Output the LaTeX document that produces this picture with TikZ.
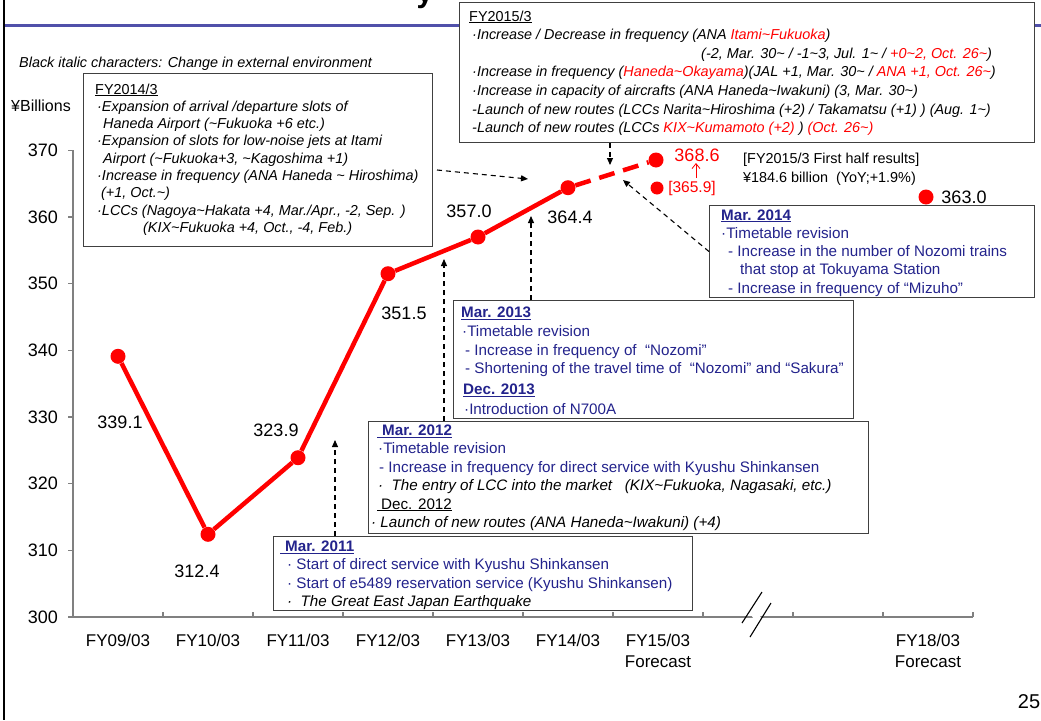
\documentclass[tikz,border=0pt]{standalone}
\usepackage{fontspec}
\setmainfont{Liberation Sans}
\usetikzlibrary{arrows.meta}
\definecolor{navy}{RGB}{35,35,140}
\definecolor{boxline}{RGB}{64,64,64}
\definecolor{axisgray}{RGB}{128,128,128}
\definecolor{rulerblue}{RGB}{80,80,170}
\definecolor{pred}{RGB}{255,0,0}
\newcommand\fs[2]{\fontsize{#1}{#2}\selectfont}
\newcommand\tld{\textasciitilde}
\newcommand\rd[1]{\textcolor{pred}{#1}}
\begin{document}
\begin{tikzpicture}[x=1pt,y=-1pt,
  box/.style={draw=boxline,line width=1.1pt,fill=white,inner sep=0pt,anchor=north west},
  txt/.style={inner sep=0pt,anchor=base west},
  lbl/.style={inner sep=0pt,font=\fs{18}{20}},
  ticklbl/.style={inner sep=0pt,anchor=east,font=\fs{18}{20}},
  xlbl/.style={inner sep=0pt,font=\fs{17}{19}},
  dot/.style={circle,fill=pred,inner sep=0pt,minimum size=15pt},
  redline/.style={pred,line width=4.5pt},
  darr/.style={black,line width=1.1pt,dash pattern=on 5pt off 4pt,-{Triangle[length=7pt,width=6pt]}},
  axis/.style={axisgray,line width=1.2pt}]
\useasboundingbox (0,0) rectangle (1041,720);
\fill[white] (0,0) rectangle (1041,720);
% title remnant and frame
\begin{scope}
\clip (0,0) rectangle (1041,20);
\node[inner sep=0pt,anchor=base] (title) at (425,2) {\fs{30}{32}\bfseries y};
\end{scope}
\draw[rulerblue,line width=3pt] (4,25) -- (1041,25);
\draw[black,line width=2.5pt] (4,0) -- (4,720);
% axes
\draw[axis] (73,150) -- (73,617) -- (973,617);
\foreach \v in {300,310,...,370} {
  \draw[axis] (68,{617-(\v-300)*6.667}) -- (73,{617-(\v-300)*6.667});
  \node[ticklbl] at (58,{617-(\v-300)*6.667}) {\v};
}
\foreach \x in {163,253,...,973} { \draw[axis] (\x,617) -- (\x,612); }
\fill[white] (748,610) -- (756,610) -- (765,624) -- (757,624) -- cycle;
\draw[black,line width=1.1pt] (742,623) -- (762,592);
\draw[black,line width=1.1pt] (750,637) -- (771,603);
\node[inner sep=0pt,font=\fs{16}{18}] (ylab) at (41,106) {¥Billions};
\foreach \x/\t in {118/FY09\slash 03,208/FY10\slash 03,298/FY11\slash 03,388/FY12\slash 03,478/FY13\slash 03,568/FY14\slash 03,658/FY15\slash 03,928/FY18\slash 03} {
  \node[xlbl] at (\x,640) {\t};
}
\node[xlbl] (fc15) at (658,662) {Forecast};
\node[xlbl] (fc18) at (928,662) {Forecast};
\node[inner sep=0pt,font=\fs{20}{22}] (pg) at (1029,702) {25};
% legend line
\node[txt,font=\fs{14.4}{17}\itshape] (legend) at (19,67) {Black italic characters: Change in external environment};
% data
\node[dot] (p09) at (118,356.3) {};
\node[dot] (p10) at (208,534.3) {};
\node[dot] (p11) at (298,457.7) {};
\node[dot] (p12) at (388,273.7) {};
\node[dot] (p13) at (478,237) {};
\node[dot] (p14) at (568,187.7) {};
\node[dot] (p15) at (656,160) {};
\node[dot,minimum size=13pt] (p15h) at (657,188) {};
\node[dot] (p18) at (926,197) {};
\draw[redline,line join=round] (p09) -- (p10) -- (p11) -- (p12) -- (p13) -- (p14);
\draw[redline,dash pattern=on 16pt off 9pt] (p14) -- (p15);
\node[lbl] (v09) at (120,422) {339.1};
\node[lbl] (v10) at (197,571) {312.4};
\node[lbl] (v11) at (276,430) {323.9};
\node[lbl] (v12) at (404,313) {351.5};
\node[lbl] (v13) at (469,211) {357.0};
\node[lbl] (v14) at (570,217) {364.4};
\node[lbl,text=pred] (v15) at (697,155) {368.6};
\node[inner sep=0pt,font=\fs{15.5}{17},text=pred] (v15h) at (692,188) {[365.9]};
\node[lbl] (v18) at (964,197) {363.0};
\coordinate (ra) at (696,163);
\draw[pred,line width=0.8pt,-{Straight Barb[length=5pt,width=8pt]}] (696,178) -- (ra);
\node[txt,font=\fs{14.4}{19}] (half) at (743,163) {\begin{tabular}[t]{@{}l@{}}[FY2015/3 First half results]\\ ¥184.6 billion\ \ (YoY;+1.9\%)\end{tabular}};
% FY2014/3 box
\node[box,minimum width=349pt,minimum height=173pt] (b14) at (83,73) {};
\node[txt] (t14) at (95,94) {\fs{14.4}{17.3}\begin{tabular}[t]{@{}l@{}}
\underline{FY2014/3}\\
\itshape\hspace{2pt}·Expansion of arrival /departure slots of\\
\itshape\hspace{8pt}Haneda Airport (\tld Fukuoka +6 etc.)\\
\itshape\hspace{2pt}·Expansion of slots for low-noise jets at Itami\\
\itshape\hspace{8pt}Airport (\tld Fukuoka+3, \tld Kagoshima +1)\\
\itshape\hspace{2pt}·Increase in frequency (ANA Haneda \tld\ Hiroshima)\\
\itshape\hspace{6pt}(+1, Oct.\tld)\\
\itshape\hspace{2pt}·LCCs (Nagoya\tld Hakata +4, Mar./Apr., -2, Sep. )\\
\itshape\hspace{48pt}(KIX\tld Fukuoka +4, Oct., -4, Feb.)
\end{tabular}};
% FY2015/3 box
\node[box,minimum width=575pt,minimum height=140pt] (b15) at (459,2) {};
\node[txt] (t15) at (469,21) {\fs{14.4}{18.6}\begin{tabular}[t]{@{}l@{}}
\underline{FY2015/3}\\
\itshape\hspace{3pt}·Increase / Decrease in frequency (ANA \rd{Itami\tld Fukuoka})\\
\itshape\hspace{232pt}(-2, Mar. 30\tld\ / -1\tld 3, Jul. 1\tld\ / \rd{+0\tld 2, Oct. 26\tld})\\
\itshape\hspace{3pt}·Increase in frequency (\rd{Haneda\tld Okayama})(JAL +1, Mar. 30\tld\ / \rd{ANA +1, Oct. 26\tld})\\
\itshape\hspace{3pt}·Increase in capacity of aircrafts (ANA Haneda\tld Iwakuni) (3, Mar. 30\tld)\\
\itshape\hspace{3pt}-Launch of new routes (LCCs Narita\tld Hiroshima (+2) / Takamatsu (+1) ) (Aug. 1\tld)\\
\itshape\hspace{3pt}-Launch of new routes (LCCs \rd{KIX\tld Kumamoto (+2)} ) \rd{(Oct. 26\tld)}
\end{tabular}};
% Mar 2014 box
\node[box,minimum width=325pt,minimum height=92pt] (b14m) at (709,205) {};
\node[txt,text=navy] (t14m) at (721,220) {\fs{15.2}{18.3}\begin{tabular}[t]{@{}l@{}}
\underline{\textbf{Mar. 2014}}\\
·Timetable revision\\
\hspace{7pt}- Increase in the number of Nozomi trains\\
\hspace{19pt}that stop at Tokuyama Station\\
\hspace{7pt}- Increase in frequency of “Mizuho”
\end{tabular}};
% Mar 2013 box
\node[box,minimum width=400pt,minimum height=118pt] (b13) at (453,300) {};
\node[txt,text=navy] (t13) at (461,317.5) {\fs{15.2}{18.8}\begin{tabular}[t]{@{}l@{}}
\underline{\textbf{Mar. 2013}}\\
\hspace{1pt}·Timetable revision\\
\hspace{4pt}- Increase in frequency of \ “Nozomi”\\
\hspace{4pt}- Shortening of the travel time of \ “Nozomi” and “Sakura”\\[2pt]
\hspace{2pt}\underline{\textbf{Dec. 2013}}\\[1pt]
\hspace{3pt}·Introduction of N700A
\end{tabular}};
% Mar 2012 box
\node[box,minimum width=500pt,minimum height=112pt] (b12) at (368,421) {};
\node[txt,text=navy] (t12) at (377,435.5) {\fs{15.2}{18.4}\begin{tabular}[t]{@{}l@{}}
\underline{\hspace{5pt}\textbf{Mar. 2012}}\\
\hspace{1pt}·Timetable revision\\
\hspace{2pt}- Increase in frequency for direct service with Kyushu Shinkansen\\
\color{black}\itshape\hspace{1pt}·\ \ The entry of LCC into the market \ \ (KIX\tld Fukuoka, Nagasaki, etc.)\\
\color{black}\underline{\hspace{4pt}Dec. 2012}\\
\color{black}\itshape\hspace{-6pt}· Launch of new routes (ANA Haneda\tld Iwakuni) (+4)
\end{tabular}};
% Mar 2011 box
\node[box,minimum width=419pt,minimum height=74pt] (b11) at (273,536) {};
\node[txt,text=navy] (t11) at (280,551.5) {\fs{15.2}{18.3}\begin{tabular}[t]{@{}l@{}}
\underline{\hspace{5pt}\textbf{Mar. 2011}}\\
\hspace{7pt}· Start of direct service with Kyushu Shinkansen\\
\hspace{7pt}· Start of e5489 reservation service (Kyushu Shinkansen)\\
\color{black}\itshape\hspace{7pt}·\ \ The Great East Japan Earthquake
\end{tabular}};
% dashed arrows
\coordinate (a1) at (335,440);
\coordinate (a2) at (444,259);
\coordinate (a3) at (531,216);
\coordinate (a4s) at (437,170);
\coordinate (a4) at (528,179);
\coordinate (a5) at (610,165);
\coordinate (a6) at (623,180);
\draw[darr] (a1 |- b11.north) -- (a1);
\draw[darr] (a2 |- b12.north) -- (a2);
\draw[darr] (a3 |- b13.north) -- (a3);
\draw[darr] (a4s) -- (a4);
\draw[darr] (a5 |- b15.south) -- (a5);
\draw[darr] (b14m.west) -- (a6);
\end{tikzpicture}
\end{document}
